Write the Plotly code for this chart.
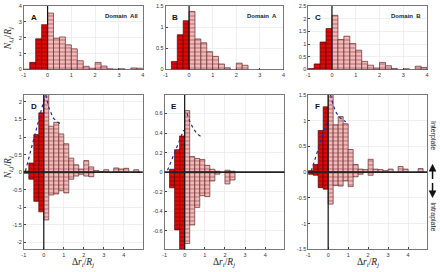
import plotly.graph_objects as go

# ---------------- data ----------------
bin_width = 0.25
bins_top = [-1 + 0.25 * i for i in range(20)]      # left edges, -1 .. 3.75
bins_bot = [-1 + 0.25 * i for i in range(24)]      # left edges, -1 .. 4.75

all_total = [0.02, 0.45, 1.93, 2.82, 3.55, 1.97, 2.05, 1.55, 1.30, 0.55,
             0.20, 0.08, 0.45, 0.22, 0.05, 0.02, 0.05, 0.0, 0.10, 0.08]
a_total = [0.0, 0.19, 0.82, 1.15, 1.37, 0.72, 0.63, 0.42, 0.31, 0.13,
           0.04, 0.0, 0.15, 0.10, 0.0, 0.0, 0.0, 0.0, 0.0, 0.0]
b_total = [0.04, 0.22, 1.08, 1.61, 2.13, 1.18, 1.31, 1.02, 0.76, 0.32,
           0.17, 0.06, 0.28, 0.15, 0.04, 0.0, 0.03, 0.0, 0.13, 0.08]

all_inter = [0.03, 0.26, 1.07, 1.69, 2.25, 1.31, 1.42, 1.09, 0.81, 0.40, 0.21, 0.09,
             0.33, 0.15, 0.05, 0.02, 0.07, 0.0, 0.12, 0.09, 0.11, 0.0, 0.07, 0.0]
all_intra = [-0.03, -0.20, -0.83, -1.13, -1.36, -0.65, -0.62, -0.53, -0.59, -0.20, -0.11, -0.06,
             -0.11, -0.13, 0.0, 0.0, 0.0, 0.0, 0.0, 0.0, 0.0, 0.0, 0.0, 0.0]
a_inter = [0.0, 0.03, 0.23, 0.37, 0.63, 0.16, 0.14, 0.13, 0.07, 0.03, 0.01, 0.0,
           0.02, 0.01, 0.0, 0.0, 0.0, 0.0, 0.0, 0.0, 0.0, 0.0, 0.0, 0.0]
a_intra = [0.0, -0.16, -0.59, -0.82, -0.73, -0.54, -0.36, -0.24, -0.25, -0.09, -0.02, 0.0,
           -0.12, -0.08, 0.0, 0.0, 0.0, 0.0, 0.0, 0.0, 0.0, 0.0, 0.0, 0.0]
b_inter = [0.03, 0.15, 0.81, 1.27, 1.55, 0.92, 1.08, 0.94, 0.44, 0.15, 0.06, 0.05,
           0.25, 0.06, 0.05, 0.03, 0.06, 0.0, 0.11, 0.06, 0.0, 0.0, 0.07, 0.0]
b_intra = [-0.04, -0.06, -0.30, -0.33, -0.62, -0.26, -0.27, -0.17, -0.28, -0.09, -0.04, 0.0,
           -0.06, 0.0, 0.0, 0.0, 0.0, 0.0, 0.0, 0.0, 0.0, 0.0, 0.0, 0.0]

# dotted envelope curves (None breaks the curve at x = 0)
d_curve_x = [-0.92, 0.02, None, 0.10, 0.25, 0.46, 0.65, 0.90]
d_curve_y = [0.03, 2.08, None, 2.20, 1.85, 1.55, 1.44, 1.36]
e_curve_x = [-0.85, -0.05, None, 0.12, 0.25, 0.42, 0.62, 0.85]
e_curve_y = [0.02, 0.43, None, 0.60, 0.52, 0.45, 0.39, 0.36]
f_curve_x = [-0.85, -0.03, None, 0.12, 0.25, 0.41, 0.60, 0.88]
f_curve_y = [0.02, 1.02, None, 1.50, 1.30, 1.15, 1.05, 0.98]

x_ticks = [-1, 0, 1, 2, 3, 4]
x_ticktext = ["-1", "0", "1", "2", "3", "4"]
ticks_A = [0, 1, 2, 3, 4]
ticks_B = [0, 0.5, 1, 1.5]
ticks_C = [0, 0.5, 1, 1.5, 2, 2.5]
ticks_D = [-2, -1.5, -1, -0.5, 0, 0.5, 1, 1.5, 2]
ticks_E = [-0.6, -0.4, -0.2, 0, 0.2, 0.4, 0.6]
ticks_F = [-1.5, -1, -0.5, 0, 0.5, 1, 1.5]

# ---------------- styling ----------------
W, H = 440, 272
RED, RED_LINE, RED_PAT = "#dc0a0a", "#5a0000", "#7a0000"
PINK, PINK_LINE, PINK_PAT = "#f4b9b9", "#5e2c2c", "#8c4a4a"
CURVE = "#2b2b9c"

def px(x):
    return x / W

def py(y):
    return 1 - y / H

panels = {
    "A": ("", 22, 142, 3, 68),
    "B": ("2", 165, 284, 3, 68),
    "C": ("3", 309, 429, 3, 68),
    "D": ("4", 22, 142, 94, 252),
    "E": ("5", 164, 285, 94, 252),
    "F": ("6", 309, 429, 94, 252),
}

fig = go.Figure()

def add_bars(edges, vals, sfx):
    neg = [(e, v) for e, v in zip(edges, vals) if e < 0 and v != 0]
    pos = [(e, v) for e, v in zip(edges, vals) if e >= 0 and v != 0]
    for grp, fill, line, pat in ((neg, RED, RED_LINE, RED_PAT), (pos, PINK, PINK_LINE, PINK_PAT)):
        if not grp:
            continue
        fig.add_trace(go.Bar(
            x=[g[0] for g in grp], y=[g[1] for g in grp],
            width=bin_width, offset=0,
            marker=dict(color=fill, line=dict(color=line, width=0.7),
                        pattern=dict(shape="-", fgcolor=pat, size=4, solidity=0.35,
                                     fillmode="overlay")),
            xaxis="x" + sfx, yaxis="y" + sfx, showlegend=False, hoverinfo="skip"))

add_bars(bins_top, all_total, "")
add_bars(bins_top, a_total, "2")
add_bars(bins_top, b_total, "3")
add_bars(bins_bot, all_inter, "4")
add_bars(bins_bot, all_intra, "4")
add_bars(bins_bot, a_inter, "5")
add_bars(bins_bot, a_intra, "5")
add_bars(bins_bot, b_inter, "6")
add_bars(bins_bot, b_intra, "6")

for cx, cy, ax in ((d_curve_x, d_curve_y, "4"), (e_curve_x, e_curve_y, "5"), (f_curve_x, f_curve_y, "6")):
    fig.add_trace(go.Scatter(x=cx, y=cy, mode="lines",
                             line=dict(color=CURVE, width=1.2, dash="dot"),
                             xaxis="x" + ax, yaxis="y" + ax, showlegend=False,
                             hoverinfo="skip", connectgaps=False))

tickfont = dict(family="Liberation Sans, Arial", size=5.5, color="#333333")
yranges = {"A": [0, 4], "B": [0, 1.5], "C": [0, 2.5],
           "D": [-2.2, 2.2], "E": [-0.79, 0.79], "F": [-1.5, 1.5]}
yticks = {"A": ticks_A, "B": ticks_B, "C": ticks_C, "D": ticks_D, "E": ticks_E, "F": ticks_F}

layout = dict(width=W, height=H, margin=dict(l=0, r=0, t=0, b=0),
              paper_bgcolor="white", plot_bgcolor="white",
              barmode="relative", bargap=0, showlegend=False, hovermode=False)
shapes = []
annotations = []

for name, (sfx, x0, x1, yt, yb) in panels.items():
    bottom = name in "DEF"
    xr = [-1, 4.95] if bottom else [-1, 4]
    layout["xaxis" + sfx] = dict(
        domain=[px(x0), px(x1)], range=xr, anchor="y" + sfx,
        tickvals=x_ticks, ticktext=x_ticktext, tickfont=tickfont,
        ticks="inside", ticklen=2, tickcolor="#444", showgrid=True,
        gridcolor="#e4e4e4", gridwidth=0.6, zeroline=False,
        showline=True, linecolor="#555", linewidth=0.8, mirror=True)
    layout["yaxis" + sfx] = dict(
        domain=[py(yb), py(yt)], range=yranges[name], anchor="x" + sfx,
        tickvals=yticks[name], ticktext=["%g" % v for v in yticks[name]], tickfont=tickfont,
        ticks="inside", ticklen=2, tickcolor="#444", showgrid=True,
        gridcolor="#e4e4e4", gridwidth=0.6, zeroline=False,
        showline=True, linecolor="#555", linewidth=0.8, mirror=True)
    xref = "x" + sfx
    yref = "y" + sfx
    shapes.append(dict(type="line", xref=xref, yref=yref + " domain", x0=0, x1=0, y0=0, y1=1,
                       line=dict(color="#111", width=1.2), layer="above"))
    if bottom:
        shapes.append(dict(type="line", xref=xref + " domain", yref=yref, x0=0, x1=1, y0=0, y1=0,
                           line=dict(color="#222", width=1.8), layer="above"))
    annotations.append(dict(text="<b>%s</b>" % name, xref="paper", yref="paper",
                            x=px(x0 + 5), y=py(yt + 5), xanchor="left", yanchor="top",
                            showarrow=False, font=dict(family="Liberation Sans, Arial", size=8, color="#111")))

dom_font = dict(family="Liberation Sans, Arial", size=6, color="#222")
for txt, xr_ in (("Domain  All", 139), ("Domain  A", 280), ("Domain  B", 425)):
    annotations.append(dict(text="<b>%s</b>" % txt, xref="paper", yref="paper", x=px(xr_), y=py(8),
                            xanchor="right", yanchor="top", showarrow=False, font=dom_font))

ylab = "<i>N</i><sub><i>i,j</i></sub>/<i>R</i><sub><i>j</i></sub>"
xlab = "Δ<i>r</i><sub><i>i</i></sub>/<i>R</i><sub><i>j</i></sub>"
serif = dict(family="Liberation Serif, DejaVu Serif, serif", size=9.5, color="#222")
annotations.append(dict(text=ylab, xref="paper", yref="paper", x=px(6), y=py(36),
                        xanchor="center", yanchor="middle",
                        textangle=-90, showarrow=False, font=serif))
annotations.append(dict(text=ylab, xref="paper", yref="paper", x=px(6), y=py(168),
                        xanchor="center", yanchor="middle",
                        textangle=-90, showarrow=False, font=serif))
for xc in ((22 + 142) / 2, (164 + 285) / 2, (309 + 429) / 2):
    annotations.append(dict(text=xlab, xref="paper", yref="paper", x=px(xc), y=py(265),
                            xanchor="center", yanchor="middle",
                            showarrow=False, font=serif))

side = dict(family="Liberation Sans, Arial", size=7, color="#222")
annotations.append(dict(text="Interplate", xref="paper", yref="paper", x=px(435), y=py(135),
                        xanchor="center", yanchor="middle",
                        textangle=90, showarrow=False, font=side))
annotations.append(dict(text="Intraplate", xref="paper", yref="paper", x=px(435), y=py(218),
                        xanchor="center", yanchor="middle",
                        textangle=90, showarrow=False, font=side))

# arrows (up and down) drawn as paper shapes
ax_c = 434.5
shapes.append(dict(type="line", xref="paper", yref="paper", x0=px(ax_c), x1=px(ax_c),
                   y0=py(180), y1=py(170), line=dict(color="#111", width=1.5)))
shapes.append(dict(type="path", xref="paper", yref="paper",
                   path="M %f,%f L %f,%f L %f,%f Z" % (px(ax_c - 3.5), py(172), px(ax_c), py(165),
                                                        px(ax_c + 3.5), py(172)),
                   fillcolor="#111", line=dict(color="#111", width=0.5)))
shapes.append(dict(type="line", xref="paper", yref="paper", x0=px(ax_c), x1=px(ax_c),
                   y0=py(184), y1=py(194), line=dict(color="#111", width=1.5)))
shapes.append(dict(type="path", xref="paper", yref="paper",
                   path="M %f,%f L %f,%f L %f,%f Z" % (px(ax_c - 3.5), py(192), px(ax_c), py(199),
                                                        px(ax_c + 3.5), py(192)),
                   fillcolor="#111", line=dict(color="#111", width=0.5)))

layout["shapes"] = shapes
layout["annotations"] = annotations
fig.update_layout(**layout)
fig.write_html("out.html", config={"displayModeBar": False, "staticPlot": True},
               post_script="document.body.style.margin='0';document.body.style.overflow='hidden';")
